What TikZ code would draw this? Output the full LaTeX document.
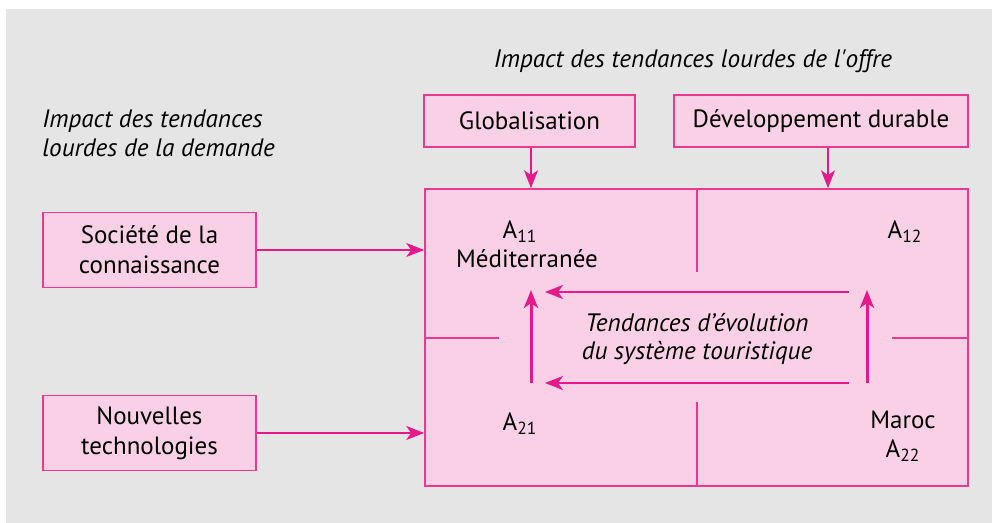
\documentclass[tikz,border=0pt]{standalone}
\usepackage{fontspec}
\setmainfont{PT Sans}
\usetikzlibrary{arrows.meta,calc}
\definecolor{bggray}{HTML}{E5E5E5}
\definecolor{boxfill}{HTML}{F9D0E5}
\definecolor{boxline}{HTML}{E93A8F}
\definecolor{arrowpink}{HTML}{E6198B}
\newcommand{\sub}[1]{\textsubscript{#1}}
\tikzset{
  box/.style={draw=boxline, fill=boxfill, line width=0.8pt, inner sep=0pt,
              align=center, font=\fontsize{12.5}{15}\selectfont},
  conn/.style={color=arrowpink, line width=0.8pt,
               -{Stealth[length=9pt,width=7pt,inset=2.5pt]}},
  flow/.style={color=arrowpink, line width=0.8pt,
               -{Stealth[length=9pt,width=7pt,inset=2.5pt]}},
  rise/.style={color=arrowpink, line width=1.5pt,
               -{Stealth[length=9pt,width=7pt,inset=2.5pt]}},
  divider/.style={color=boxline, line width=0.7pt},
  lbl/.style={font=\fontsize{12.5}{15}\selectfont, inner sep=0pt},
  title/.style={font=\fontsize{12.6}{14.5}\selectfont\itshape, inner sep=0pt, align=left}
}
\begin{document}
\begin{tikzpicture}[x=0.5pt, y=-0.5pt]
  % canvas and grey backdrop
  \useasboundingbox (0,0) rectangle (992,523);
  \fill[bggray] (6,9) rectangle (992,523);

  % headings
  \node[title, anchor=center] (offre) at (693,61) {Impact des tendances lourdes de l\textquotesingle offre};
  \node[title, anchor=west] (demande) at (42,133) {Impact des tendances\\lourdes de la demande};

  % supply-side drivers
  \node[box, minimum width=105.5pt, minimum height=26pt] (glob) at (529.5,121) {Globalisation};
  \node[box, minimum width=147pt, minimum height=26pt] (dev) at (821,121) {Développement durable};

  % demand-side drivers
  \node[box, minimum width=106.5pt, minimum height=37.5pt] (soc) at (149.5,250) {Société de la\\connaissance};
  \node[box, minimum width=106.5pt, minimum height=37.5pt] (nouv) at (149.5,433) {Nouvelles\\technologies};

  % tourism system matrix
  \node[box, minimum width=271.5pt, minimum height=148.5pt] (sys) at (696.5,337.5) {};

  % quadrant dividers
  \draw[divider] (697,189) -- (697,272);
  \draw[divider] (697,402) -- (697,486);
  \draw[divider] (425,338) -- (499,338);
  \draw[divider] (892,338) -- (968,338);

  % quadrant labels
  \node[lbl] (a11) at (520,232) {A\sub{11}};
  \node[lbl] (med) at (527,259) {Méditerranée};
  \node[lbl] (a12) at (905,232) {A\sub{12}};
  \node[lbl] (a21) at (520,424) {A\sub{21}};
  \node[lbl] (maroc) at (903,420) {Maroc};
  \node[lbl] (a22) at (903,451) {A\sub{22}};

  % central caption
  \node[font=\fontsize{12.6}{14}\selectfont\itshape, align=center, inner sep=0pt] (trend) at (697,339)
    {Tendances d’évolution\\du système touristique};

  % external influences
  \coordinate (gsrc) at ($(glob.south)+(1.5,0)$);
  \coordinate (dsrc) at ($(dev.south)+(7,0)$);
  \draw[conn] (gsrc) -- (gsrc |- sys.north);
  \draw[conn] (dsrc) -- (dsrc |- sys.north);
  \draw[conn] (soc.east) -- (soc.east -| sys.west);
  \draw[conn] (nouv.east) -- (nouv.east -| sys.west);

  % internal evolution arrows
  \coordinate (tr) at (849,292);
  \coordinate (tl) at (545,292);
  \coordinate (br) at (849,383);
  \coordinate (bl) at (545,383);
  \coordinate (lb) at (531,383);
  \coordinate (lt) at (531,290);
  \coordinate (rb) at (867,383);
  \coordinate (rt) at (867,290);
  \draw[flow] (tr) -- (tl);
  \draw[flow] (br) -- (bl);
  \draw[rise] (lb) -- (lt);
  \draw[rise] (rb) -- (rt);
\end{tikzpicture}
\end{document}
